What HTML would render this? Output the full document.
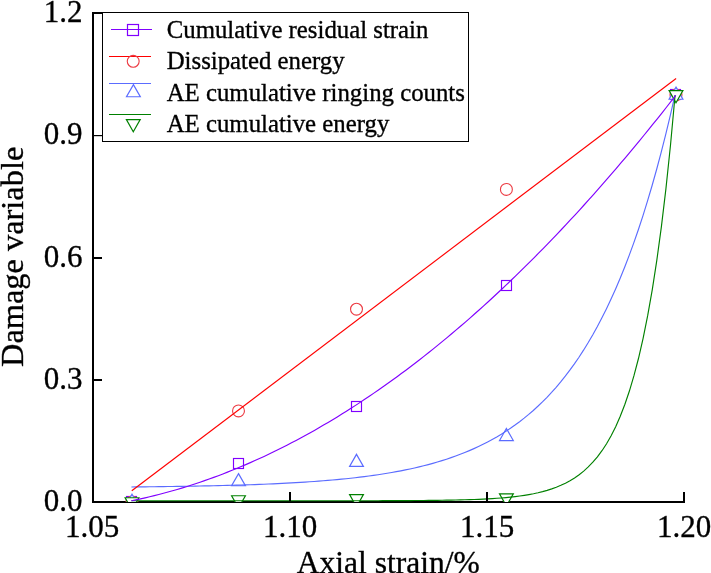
<!DOCTYPE html>
<html><head><meta charset="utf-8"><style>
html,body{margin:0;padding:0;background:#fff;}
svg{display:block;will-change:transform;}
text{font-family:"Liberation Serif",serif;fill:#000;stroke:#000;stroke-width:0.35px;}
</style></head><body>
<svg width="711" height="573" viewBox="0 0 711 573">
<rect x="92" y="12" width="2" height="491" fill="#000"/>
<rect x="92" y="501" width="593" height="2" fill="#000"/>
<defs><clipPath id="c"><rect x="0" y="0" width="711" height="502"/></clipPath></defs>
<g clip-path="url(#c)"><rect x="126.5" y="496.5" width="10" height="10" fill="#fff" stroke="#8000FF" stroke-width="1.15"/><rect x="233.5" y="458.5" width="10" height="10" fill="#fff" stroke="#8000FF" stroke-width="1.15"/><rect x="351.5" y="401.5" width="10" height="10" fill="#fff" stroke="#8000FF" stroke-width="1.15"/><rect x="501.5" y="280.5" width="10" height="10" fill="#fff" stroke="#8000FF" stroke-width="1.15"/><rect x="670.5" y="89.5" width="10" height="10" fill="#fff" stroke="#8000FF" stroke-width="1.15"/><circle cx="132" cy="502" r="5.95" fill="#fff" stroke="#EC3A42" stroke-width="1.1"/><circle cx="238.5" cy="410.9" r="5.95" fill="#fff" stroke="#EC3A42" stroke-width="1.1"/><circle cx="356.5" cy="309.2" r="5.95" fill="#fff" stroke="#EC3A42" stroke-width="1.1"/><circle cx="506.4" cy="189.4" r="5.95" fill="#fff" stroke="#EC3A42" stroke-width="1.1"/><circle cx="676" cy="95" r="5.95" fill="#fff" stroke="#EC3A42" stroke-width="1.1"/><path d="M132.00,494.23 L138.90,506.33 L125.10,506.33 Z" fill="#fff" stroke="#5B6CFF" stroke-width="1.2" stroke-linejoin="miter"/><path d="M238.50,473.63 L245.40,485.73 L231.60,485.73 Z" fill="#fff" stroke="#5B6CFF" stroke-width="1.2" stroke-linejoin="miter"/><path d="M356.50,454.33 L363.40,466.43 L349.60,466.43 Z" fill="#fff" stroke="#5B6CFF" stroke-width="1.2" stroke-linejoin="miter"/><path d="M506.40,428.43 L513.30,440.53 L499.50,440.53 Z" fill="#fff" stroke="#5B6CFF" stroke-width="1.2" stroke-linejoin="miter"/><path d="M676.00,87.13 L682.90,99.23 L669.10,99.23 Z" fill="#fff" stroke="#5B6CFF" stroke-width="1.2" stroke-linejoin="miter"/><path d="M132.00,509.87 L138.90,497.77 L125.10,497.77 Z" fill="#fff" stroke="#008000" stroke-width="1.2" stroke-linejoin="miter"/><path d="M238.50,507.87 L245.40,495.77 L231.60,495.77 Z" fill="#fff" stroke="#008000" stroke-width="1.2" stroke-linejoin="miter"/><path d="M356.50,506.77 L363.40,494.67 L349.60,494.67 Z" fill="#fff" stroke="#008000" stroke-width="1.2" stroke-linejoin="miter"/><path d="M506.40,505.97 L513.30,493.87 L499.50,493.87 Z" fill="#fff" stroke="#008000" stroke-width="1.2" stroke-linejoin="miter"/><path d="M676.00,102.77 L682.90,90.67 L669.10,90.67 Z" fill="#fff" stroke="#008000" stroke-width="1.2" stroke-linejoin="miter"/></g>
<g fill="none" stroke-width="1.15">
<path d="M131.40,486.95 L135.97,486.90 L140.53,486.86 L145.10,486.82 L149.67,486.77 L154.24,486.72 L158.80,486.66 L163.37,486.61 L167.94,486.55 L172.50,486.48 L177.07,486.42 L181.64,486.35 L186.20,486.27 L190.77,486.20 L195.34,486.12 L199.91,486.03 L204.47,485.94 L209.04,485.84 L213.61,485.74 L218.17,485.64 L222.74,485.53 L227.31,485.41 L231.87,485.28 L236.44,485.15 L241.01,485.02 L245.58,484.87 L250.14,484.72 L254.71,484.56 L259.28,484.39 L263.84,484.21 L268.41,484.02 L272.98,483.82 L277.54,483.61 L282.11,483.39 L286.68,483.16 L291.25,482.91 L295.81,482.65 L300.38,482.38 L304.95,482.09 L309.51,481.79 L314.08,481.47 L318.65,481.14 L323.21,480.78 L327.78,480.41 L332.35,480.02 L336.92,479.60 L341.48,479.17 L346.05,478.71 L350.62,478.22 L355.18,477.71 L359.75,477.17 L364.32,476.61 L368.88,476.01 L373.45,475.38 L378.02,474.71 L382.59,474.01 L387.15,473.28 L391.72,472.50 L396.29,471.68 L400.85,470.82 L405.42,469.91 L409.99,468.95 L414.55,467.94 L419.12,466.88 L423.69,465.76 L428.26,464.58 L432.82,463.33 L437.39,462.02 L441.96,460.63 L446.52,459.18 L451.09,457.64 L455.66,456.02 L460.23,454.32 L464.79,452.52 L469.36,450.63 L473.93,448.63 L478.49,446.53 L483.06,444.31 L487.63,441.97 L492.19,439.51 L496.76,436.92 L501.33,434.18 L505.90,431.30 L510.46,428.27 L515.03,425.07 L519.60,421.70 L524.16,418.14 L528.73,414.40 L533.30,410.45 L537.86,406.29 L542.43,401.91 L547.00,397.29 L551.57,392.43 L556.13,387.30 L560.70,381.89 L565.27,376.20 L569.83,370.20 L574.40,363.87 L578.97,357.21 L583.53,350.18 L588.10,342.78 L592.67,334.98 L597.24,326.76 L601.80,318.10 L606.37,308.97 L610.94,299.35 L615.50,289.21 L620.07,278.52 L624.64,267.27 L629.20,255.40 L633.77,242.90 L638.34,229.72 L642.91,215.84 L647.47,201.20 L652.04,185.78 L656.61,169.53 L661.17,152.41 L665.74,134.36 L670.31,115.34 L674.87,95.30" stroke="#5B6CFF"/>
<path d="M131.40,500.78 L135.97,500.78 L140.54,500.78 L145.11,500.78 L149.67,500.78 L154.24,500.78 L158.81,500.78 L163.38,500.78 L167.95,500.78 L172.52,500.78 L177.09,500.78 L181.66,500.78 L186.22,500.78 L190.79,500.78 L195.36,500.78 L199.93,500.78 L204.50,500.78 L209.07,500.78 L213.64,500.78 L218.21,500.78 L222.77,500.78 L227.34,500.78 L231.91,500.78 L236.48,500.78 L241.05,500.78 L245.62,500.78 L250.19,500.78 L254.76,500.78 L259.32,500.78 L263.89,500.78 L268.46,500.78 L273.03,500.78 L277.60,500.78 L282.17,500.77 L286.74,500.77 L291.31,500.77 L295.87,500.77 L300.44,500.77 L305.01,500.77 L309.58,500.77 L314.15,500.77 L318.72,500.76 L323.29,500.76 L327.86,500.76 L332.42,500.76 L336.99,500.75 L341.56,500.75 L346.13,500.75 L350.70,500.74 L355.27,500.74 L359.84,500.73 L364.41,500.72 L368.97,500.72 L373.54,500.71 L378.11,500.70 L382.68,500.69 L387.25,500.67 L391.82,500.66 L396.39,500.64 L400.96,500.62 L405.52,500.60 L410.09,500.57 L414.66,500.54 L419.23,500.51 L423.80,500.47 L428.37,500.43 L432.94,500.38 L437.50,500.33 L442.07,500.26 L446.64,500.19 L451.21,500.11 L455.78,500.02 L460.35,499.91 L464.92,499.79 L469.49,499.65 L474.05,499.49 L478.62,499.31 L483.19,499.11 L487.76,498.87 L492.33,498.61 L496.90,498.30 L501.47,497.96 L506.04,497.56 L510.60,497.11 L515.17,496.60 L519.74,496.02 L524.31,495.35 L528.88,494.59 L533.45,493.73 L538.02,492.74 L542.59,491.62 L547.15,490.34 L551.72,488.88 L556.29,487.22 L560.86,485.33 L565.43,483.17 L570.00,480.72 L574.57,477.91 L579.14,474.72 L583.70,471.08 L588.27,466.94 L592.84,462.21 L597.41,456.83 L601.98,450.69 L606.55,443.69 L611.12,435.72 L615.69,426.64 L620.25,416.29 L624.82,404.49 L629.39,391.05 L633.96,375.72 L638.53,358.26 L643.10,338.36 L647.67,315.68 L652.24,289.84 L656.80,260.39 L661.37,226.82 L665.94,188.57 L670.51,144.98 L675.08,95.30" stroke="#008000"/>
<path d="M131.40,500.80 L135.97,499.85 L140.55,498.86 L145.12,497.83 L149.70,496.76 L154.27,495.65 L158.85,494.49 L163.42,493.29 L168.00,492.05 L172.57,490.77 L177.15,489.45 L181.72,488.09 L186.30,486.68 L190.87,485.24 L195.45,483.75 L200.02,482.22 L204.60,480.64 L209.17,479.03 L213.75,477.37 L218.32,475.68 L222.90,473.94 L227.47,472.16 L232.05,470.33 L236.62,468.47 L241.19,466.56 L245.77,464.61 L250.34,462.63 L254.92,460.59 L259.49,458.52 L264.07,456.41 L268.64,454.25 L273.22,452.05 L277.79,449.81 L282.37,447.53 L286.94,445.21 L291.52,442.84 L296.09,440.44 L300.67,437.99 L305.24,435.50 L309.82,432.97 L314.39,430.39 L318.97,427.78 L323.54,425.12 L328.12,422.42 L332.69,419.68 L337.27,416.90 L341.84,414.08 L346.42,411.21 L350.99,408.30 L355.56,405.36 L360.14,402.37 L364.71,399.33 L369.29,396.26 L373.86,393.14 L378.44,389.99 L383.01,386.79 L387.59,383.55 L392.16,380.26 L396.74,376.94 L401.31,373.57 L405.89,370.17 L410.46,366.72 L415.04,363.23 L419.61,359.69 L424.19,356.12 L428.76,352.50 L433.34,348.85 L437.91,345.15 L442.49,341.41 L447.06,337.62 L451.64,333.80 L456.21,329.93 L460.78,326.02 L465.36,322.07 L469.93,318.08 L474.51,314.05 L479.08,309.97 L483.66,305.86 L488.23,301.70 L492.81,297.50 L497.38,293.26 L501.96,288.97 L506.53,284.65 L511.11,280.28 L515.68,275.87 L520.26,271.42 L524.83,266.93 L529.41,262.40 L533.98,257.82 L538.56,253.21 L543.13,248.55 L547.71,243.85 L552.28,239.10 L556.86,234.32 L561.43,229.49 L566.01,224.63 L570.58,219.72 L575.15,214.77 L579.73,209.78 L584.30,204.74 L588.88,199.67 L593.45,194.55 L598.03,189.39 L602.60,184.19 L607.18,178.94 L611.75,173.66 L616.33,168.33 L620.90,162.97 L625.48,157.56 L630.05,152.11 L634.63,146.61 L639.20,141.08 L643.78,135.50 L648.35,129.88 L652.93,124.22 L657.50,118.52 L662.08,112.78 L666.65,106.99 L671.23,101.17 L675.80,95.30" stroke="#8000FF"/>
<path d="M131.8,490.8 L676.1,78.5" stroke="#FF0000"/>
</g>
<rect x="94" y="12" width="8" height="2" fill="#000"/><rect x="94" y="135" width="8" height="1.2" fill="#000"/><rect x="94" y="257" width="8" height="2" fill="#000"/><rect x="94" y="379" width="8" height="2" fill="#000"/><rect x="289" y="492" width="2" height="9" fill="#000"/><rect x="486" y="492" width="2" height="9" fill="#000"/><rect x="683" y="492" width="2" height="9" fill="#000"/>
<g font-size="31"><text x="82.5" y="21.5" text-anchor="end">1.2</text><text x="82.5" y="144.0" text-anchor="end">0.9</text><text x="82.5" y="266.5" text-anchor="end">0.6</text><text x="82.5" y="388.5" text-anchor="end">0.3</text><text x="82.5" y="510.5" text-anchor="end">0.0</text><text x="92.2" y="537" text-anchor="middle">1.05</text><text x="290" y="537" text-anchor="middle">1.10</text><text x="487" y="537" text-anchor="middle">1.15</text><text x="684" y="537" text-anchor="middle">1.20</text></g>
<text x="296.8" y="572.5" font-size="31.5">Axial strain/%</text>
<text x="0" y="0" font-size="32.4" transform="translate(22.5,367) rotate(-90)">Damage variable</text>
<rect x="102.5" y="12.5" width="366" height="129" fill="#fff" stroke="#000" stroke-width="1"/><line x1="111" y1="29.5" x2="152" y2="29.5" stroke="#8000FF" stroke-width="1.15"/><rect x="127.5" y="24.5" width="11" height="11" fill="none" stroke="#8000FF" stroke-width="1.2"/><line x1="109" y1="56.5" x2="151" y2="56.5" stroke="#FF0000" stroke-width="1.15"/><circle cx="133.2" cy="61.3" r="5.95" fill="none" stroke="#EC3A42" stroke-width="1.1"/><line x1="109" y1="83.5" x2="151" y2="83.5" stroke="#5B6CFF" stroke-width="1.15"/><path d="M133.40,84.63 L140.30,96.73 L126.50,96.73 Z" fill="none" stroke="#5B6CFF" stroke-width="1.2" stroke-linejoin="miter"/><line x1="109" y1="114.5" x2="151" y2="114.5" stroke="#008000" stroke-width="1.15"/><path d="M133.30,131.77 L140.20,119.67 L126.40,119.67 Z" fill="none" stroke="#008000" stroke-width="1.2" stroke-linejoin="miter"/><text x="166.7" y="38" font-size="24.8">Cumulative residual strain</text><text x="166.7" y="69" font-size="24.8">Dissipated energy</text><text x="166.7" y="100.5" font-size="24.8">AE cumulative ringing counts</text><text x="166.7" y="131.5" font-size="24.8">AE cumulative energy</text>
</svg>
</body></html>
